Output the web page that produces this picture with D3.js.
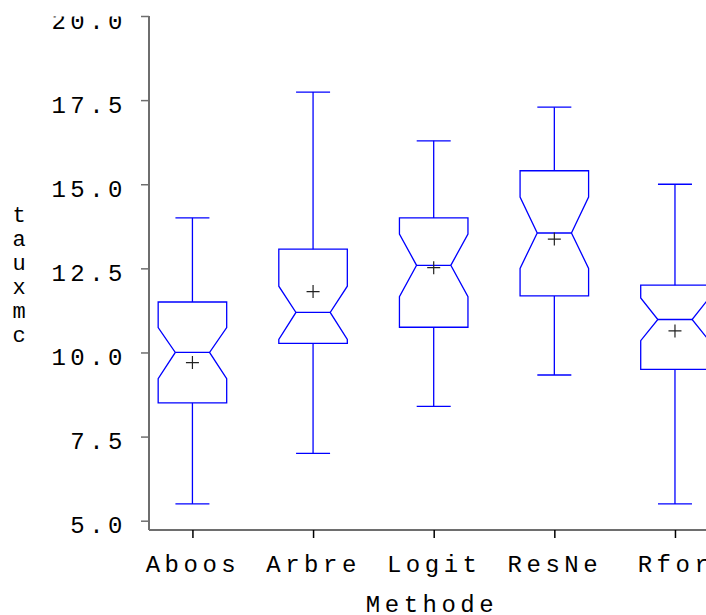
<!DOCTYPE html>
<html>
<head>
<meta charset="utf-8">
<script src="https://cdn.jsdelivr.net/npm/d3@7"></script>
<style>
  body { margin: 0; background: #fff; }
  svg text { font-family: "Liberation Mono", "Courier New", monospace; font-size: 24px; letter-spacing: 4.5px; fill: #000; }
</style>
</head>
<body>
<svg id="chart"></svg>
<script>
// Chart size
const width = 706, height = 615;

// Data
const methodes = ["Aboos", "Arbre", "Logit", "ResNe", "Rfor"];
const whiskerLow  = [5.5, 7.0, 8.4, 9.33, 5.5];
const q1          = [8.5, 10.27, 10.75, 11.68, 9.5];
const notchLow    = [9.22, 10.39, 11.66, 12.5, 10.35];
const median      = [10.0, 11.19, 12.59, 13.55, 10.98];
const notchHigh   = [10.74, 11.97, 13.52, 14.62, 11.62];
const q3          = [11.5, 13.07, 14.0, 15.4, 12.0];
const whiskerHigh = [14.0, 17.74, 16.29, 17.29, 15.0];
const moyenne     = [9.7, 11.81, 12.52, 13.37, 10.64];
const yTicks = [5, 7.5, 10, 12.5, 15, 17.5, 20];

const svg = d3.select("#chart").attr("width", width).attr("height", height);

const axisX0 = 149, axisY0 = 530;

const y = d3.scaleLinear().domain([5, 20]).range([520.7, 16]);
const x = d3.scalePoint().domain(methodes).range([axisX0, 718.4]).padding(0.36);

const step = x.step();
const boxHalf = step * 0.284;
const notchHalf = boxHalf * 0.5;
const capHalf = 17;

// The original export is cut at the top, so the "20.0" label loses its upper part.
// The tick group sits at translate(0, y(20)), so the clip rect is given in that space.
svg.append("defs").append("clipPath").attr("id", "cutTop")
  .append("rect").attr("x", -200).attr("y", 16 - y(20)).attr("width", 400).attr("height", 40);

// axis lines
svg.append("line").attr("x1", axisX0).attr("x2", axisX0).attr("y1", y(20)).attr("y2", axisY0)
  .attr("stroke", "#6e6e6e").attr("stroke-width", 2);
svg.append("line").attr("x1", axisX0).attr("x2", 740).attr("y1", axisY0).attr("y2", axisY0)
  .attr("stroke", "#6e6e6e").attr("stroke-width", 2);

// y axis
const yAxis = svg.append("g").attr("transform", `translate(${axisX0},0)`)
  .call(d3.axisLeft(y).tickValues(yTicks).tickFormat(d3.format(".1f")).tickSize(8).tickPadding(14));
yAxis.select(".domain").remove();
yAxis.selectAll(".tick line").attr("stroke", "#6e6e6e").attr("stroke-width", 1.5);
yAxis.selectAll(".tick text").attr("dy", "0.5em");
yAxis.selectAll(".tick").filter(d => d === 20).select("text").attr("clip-path", "url(#cutTop)");

// x axis
const xAxis = svg.append("g").attr("transform", `translate(0,${axisY0})`)
  .call(d3.axisBottom(x).tickSize(8).tickPadding(16));
xAxis.select(".domain").remove();
xAxis.selectAll(".tick line").attr("stroke", "#000").attr("stroke-width", 1.5);
xAxis.selectAll(".tick text").attr("dy", "0.75em");

// let the CSS font win over the axis defaults
svg.selectAll("g[font-family]").attr("font-family", null).attr("font-size", null);

// axis titles
svg.append("text").attr("x", 432).attr("y", 612).attr("text-anchor", "middle").text("Methode");
const yTitle = svg.append("text").attr("text-anchor", "middle")
  .style("font-size", "22px").style("letter-spacing", "0px");
"tauxmc".split("").forEach((ch, i) => {
  yTitle.append("tspan").attr("x", 19).attr("y", 222 + i * 24).text(ch);
});

// notched boxes
const blue = "#0000ff";
const boxes = svg.selectAll(".box").data(methodes).join("g").attr("class", "box");

boxes.each(function(m, i) {
  const c = x(m);
  const b = d3.select(this);
  const pts = [
    [c - boxHalf, y(q3[i])], [c + boxHalf, y(q3[i])], [c + boxHalf, y(notchHigh[i])],
    [c + notchHalf, y(median[i])], [c + boxHalf, y(notchLow[i])], [c + boxHalf, y(q1[i])],
    [c - boxHalf, y(q1[i])], [c - boxHalf, y(notchLow[i])], [c - notchHalf, y(median[i])],
    [c - boxHalf, y(notchHigh[i])]
  ];
  b.append("path").attr("d", "M" + pts.join("L") + "Z")
    .attr("fill", "none").attr("stroke", blue).attr("stroke-width", 1.3);
  b.append("line").attr("x1", c - notchHalf).attr("x2", c + notchHalf)
    .attr("y1", y(median[i])).attr("y2", y(median[i])).attr("stroke", blue).attr("stroke-width", 1.3);
  // whiskers
  [[q3[i], whiskerHigh[i]], [q1[i], whiskerLow[i]]].forEach(([from, to]) => {
    b.append("line").attr("x1", c).attr("x2", c).attr("y1", y(from)).attr("y2", y(to))
      .attr("stroke", blue).attr("stroke-width", 1.3);
    b.append("line").attr("x1", c - capHalf).attr("x2", c + capHalf).attr("y1", y(to)).attr("y2", y(to))
      .attr("stroke", blue).attr("stroke-width", 1.3);
  });
  // mean marker
  const my = y(moyenne[i]);
  b.append("path").attr("d", `M${c - 6.5},${my}H${c + 6.5}M${c},${my - 6.5}V${my + 6.5}`)
    .attr("stroke", "#222").attr("stroke-width", 1.2).attr("fill", "none");
});
</script>
</body>
</html>
